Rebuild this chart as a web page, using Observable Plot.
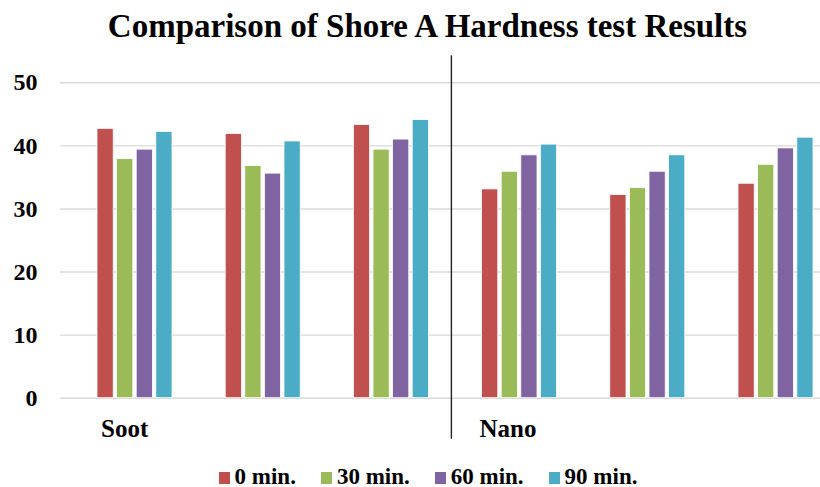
<!DOCTYPE html>
<html>
<head>
<meta charset="utf-8">
<script src="https://cdn.jsdelivr.net/npm/d3@7"></script>
<script src="https://cdn.jsdelivr.net/npm/@observablehq/plot@0.6"></script>
</head>
<body style="margin:0;background:#fff;width:820px;font-family:'Liberation Serif';">
<div id="title" style="height:52px;line-height:52px;font-family:'Liberation Serif';font-weight:bold;font-size:33px;text-align:center;padding-left:35px;white-space:nowrap;color:#000;">Comparison of Shore A Hardness test Results</div>
<div id="chart"></div>
<div id="legend" style="display:flex;justify-content:center;align-items:baseline;padding-left:36px;padding-top:6px;gap:25px;font-family:'Liberation Serif';font-weight:bold;font-size:23px;line-height:21px;height:21px;color:#000;"></div>
<script>
// ---- data ----
const groups = ["Soot 1", "Soot 2", "Soot 3", "Nano 1", "Nano 2", "Nano 3"];
const series = ["0 min.", "30 min.", "60 min.", "90 min."];
const colors = ["#C0504D", "#9BBB59", "#8064A2", "#4BACC6"];
const values0 = [42.7, 41.9, 43.3, 33.1, 32.2, 34.0];
const values30 = [37.9, 36.8, 39.4, 35.9, 33.3, 37.0];
const values60 = [39.4, 35.6, 41.0, 38.5, 35.9, 39.6];
const values90 = [42.2, 40.7, 44.1, 40.2, 38.5, 41.3];
const yTicks = [0, 10, 20, 30, 40, 50];
const categoryLabels = [{group: "Soot 1", label: "Soot"}, {group: "Nano 1", label: "Nano"}];

const seriesValues = [values0, values30, values60, values90];
const table = [];
series.forEach((s, si) => groups.forEach((g, gi) => table.push({group: g, series: s, si, value: seriesValues[si][gi]})));

// ---- layout ----
const FONT = "Liberation Serif";
const xRange = [97, 813];
const padInner = 0.415;
const step = (xRange[1] - xRange[0]) / (groups.length - padInner);
const bw = step * (1 - padInner);
const barW = 16.2;
const barGap = (bw - series.length * barW) / (series.length - 1);

const barMarks = series.map((s, si) => Plot.barY(table.filter(d => d.si === si), {
  x: "group", y: "value", fill: colors[si],
  stroke: "white", strokeWidth: 0.8,
  insetLeft: si * (barW + barGap),
  insetRight: bw - si * (barW + barGap) - barW
}));

const chart = Plot.plot({
  width: 820,
  height: 408,
  marginTop: 30.3,
  marginBottom: 62.3,
  marginLeft: 60,
  marginRight: 0,
  style: {fontSize: "24px", fontWeight: "bold", color: "#000", background: "#fff", overflow: "visible"},
  x: {domain: groups, range: xRange, paddingInner: padInner, paddingOuter: 0, round: false, axis: null},
  y: {domain: [0, 50], ticks: yTicks, tickSize: 0, tickPadding: 23, label: null},
  marks: [
    Plot.ruleY(yTicks, {stroke: "#d9d9d9", strokeWidth: 1.4}),
    ...barMarks,
    Plot.ruleX([groups[3]], {x: d => d, y1: -6.5, y2: 54.3, dx: -68.2, stroke: "#222", strokeWidth: 1.4}),
    Plot.text([categoryLabels[0]], {x: "group", text: "label", frameAnchor: "bottom", lineAnchor: "bottom", textAnchor: "start", dx: 100.5 - (xRange[0] + bw / 2), dy: 39, fontSize: 25, fontWeight: "bold", fill: "#000"}),
    Plot.text([categoryLabels[1]], {x: "group", text: "label", frameAnchor: "bottom", lineAnchor: "bottom", textAnchor: "start", dx: 479 - (xRange[0] + 3 * step + bw / 2), dy: 39, fontSize: 25, fontWeight: "bold", fill: "#000"})
  ]
});
chart.setAttribute("font-family", FONT);
chart.style.fontFamily = "'" + FONT + "'";
chart.querySelectorAll("g, text").forEach(t => {
  if (t.hasAttribute("font-family")) t.setAttribute("font-family", FONT);
  if (t.tagName.toLowerCase() === "text") t.style.fontFamily = "'" + FONT + "'";
});
document.getElementById("chart").appendChild(chart);

const legend = document.getElementById("legend");
series.forEach((s, i) => {
  const item = document.createElement("span");
  item.style.fontFamily = "'" + FONT + "'";
  const sw = document.createElement("span");
  sw.style.cssText = "display:inline-block;width:11px;height:12px;margin-right:5px;background:" + colors[i];
  item.appendChild(sw);
  item.appendChild(document.createTextNode(s));
  legend.appendChild(item);
});
</script>
</body>
</html>
